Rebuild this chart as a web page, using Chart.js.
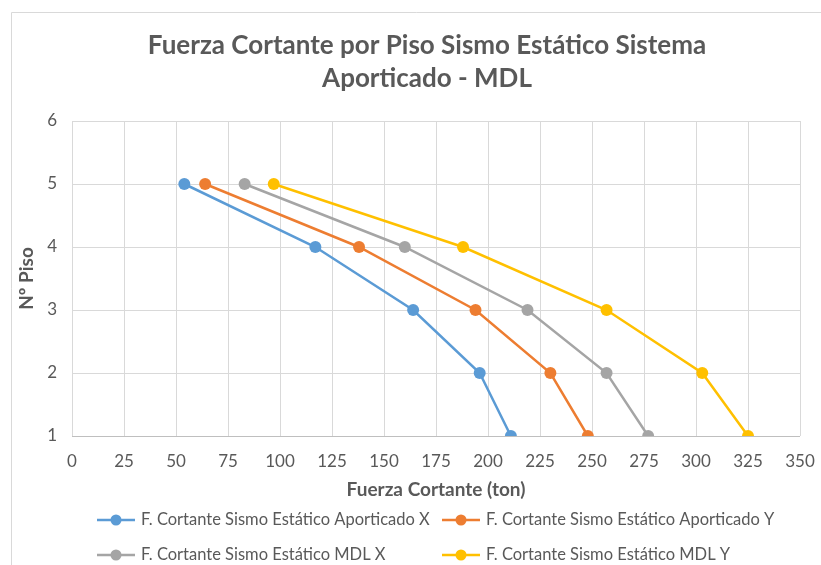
<!DOCTYPE html>
<html>
<head>
<meta charset="utf-8">
<script src="https://cdn.jsdelivr.net/npm/chart.js@4"></script>
<style>
  html, body { margin: 0; padding: 0; background: #fff; }
  #wrap { position: relative; width: 821px; height: 565px; }
</style>
</head>
<body>
<div id="wrap"><canvas id="myChart" width="821" height="565"></canvas></div>
<script>
// pisos y fuerzas cortantes (ton)
const pisos = [5, 4, 3, 2, 1];
const aporticadoX = [54, 117, 164, 196, 211];
const aporticadoY = [64, 138, 194, 230, 248];
const mdlX = [83, 160, 219, 257, 277];
const mdlY = [97, 188, 257, 303, 325];
const seriesNames = [
  'F. Cortante Sismo Estático Aporticado X',
  'F. Cortante Sismo Estático Aporticado Y',
  'F. Cortante Sismo Estático MDL X',
  'F. Cortante Sismo Estático MDL Y'
];
const seriesColors = ['#5B9BD5', '#ED7D31', '#A5A5A5', '#FFC000'];
const titleLines = ['Fuerza Cortante por Piso Sismo Estático Sistema', 'Aporticado - MDL'];

const FONT = 'Lato, "Open Sans", sans-serif';
const TXT = '#595959';

function toPoints(xs) {
  return xs.map((x, i) => ({ x: x, y: pisos[i] }));
}

const allSeries = [aporticadoX, aporticadoY, mdlX, mdlY];

// marco, titulo y leyenda dibujados a mano
const decor = {
  id: 'decor',
  beforeDraw(chart) {
    const c = chart.ctx;
    c.save();
    c.strokeStyle = '#d9d9d9';
    c.lineWidth = 1;
    c.beginPath();
    c.moveTo(11.5, 565);
    c.lineTo(11.5, 12.5);
    c.lineTo(821, 12.5);
    c.stroke();
    c.restore();
  },
  afterDraw(chart) {
    const c = chart.ctx;
    c.save();
    c.fillStyle = TXT;
    c.textAlign = 'center';
    c.textBaseline = 'middle';
    c.font = 'bold 26px ' + FONT;
    c.fillText(titleLines[0], 427, 46);
    c.fillText(titleLines[1], 427, 79);

    const slots = [[97, 520], [442, 520], [97, 555], [442, 555]];
    c.font = '16.5px ' + FONT;
    c.textAlign = 'left';
    chart.data.datasets.forEach((ds, i) => {
      const [x, y] = slots[i];
      c.strokeStyle = ds.borderColor;
      c.lineWidth = 2.5;
      c.beginPath();
      c.moveTo(x, y);
      c.lineTo(x + 38, y);
      c.stroke();
      c.fillStyle = ds.backgroundColor;
      c.beginPath();
      c.arc(x + 19, y, 5.5, 0, Math.PI * 2);
      c.fill();
      c.fillStyle = TXT;
      c.fillText(ds.label, x + 44, y);
    });
    c.restore();
  }
};

const ctx = document.getElementById('myChart');

new Chart(ctx, {
  type: 'line',
  data: {
    datasets: allSeries.map((s, i) => ({
      label: seriesNames[i],
      data: toPoints(s),
      borderColor: seriesColors[i],
      backgroundColor: seriesColors[i],
      borderWidth: 2.5,
      pointRadius: 6,
      pointHoverRadius: 6,
      pointBorderWidth: 0,
      tension: 0
    }))
  },
  options: {
    responsive: false,
    animation: false,
    layout: { padding: { top: 121, left: 0, right: 21, bottom: 0 } },
    plugins: {
      legend: { display: false },
      title: { display: false },
      tooltip: { enabled: false }
    },
    scales: {
      x: {
        type: 'linear',
        min: 0,
        max: 350,
        ticks: { stepSize: 25, color: TXT, font: { family: FONT, size: 17 }, padding: 15, maxRotation: 0 },
        grid: { color: '#d9d9d9', drawTicks: false },
        border: { display: false },
        title: {
          display: true,
          text: 'Fuerza Cortante (ton)',
          color: TXT,
          font: { family: FONT, size: 19, weight: 'bold' },
          padding: { top: 0, bottom: 64 }
        },
        afterFit(scale) {
          scale.height = 129;
          scale.paddingLeft = 0;
          scale.paddingRight = 0;
        }
      },
      y: {
        type: 'linear',
        min: 1,
        max: 6,
        ticks: { stepSize: 1, color: TXT, font: { family: FONT, size: 17 }, padding: 15 },
        grid: {
          color: (c) => (c.tick && c.tick.value === 1 ? '#bfbfbf' : '#d9d9d9'),
          drawTicks: false
        },
        border: { display: false },
        title: {
          display: true,
          text: 'Nº Piso',
          color: TXT,
          font: { family: FONT, size: 19, weight: 'bold' },
          padding: { top: 15, bottom: 0 }
        },
        afterFit(scale) {
          scale.width = 72;
          scale.paddingTop = 0;
          scale.paddingBottom = 0;
        }
      }
    }
  },
  plugins: [decor]
});
</script>
</body>
</html>
